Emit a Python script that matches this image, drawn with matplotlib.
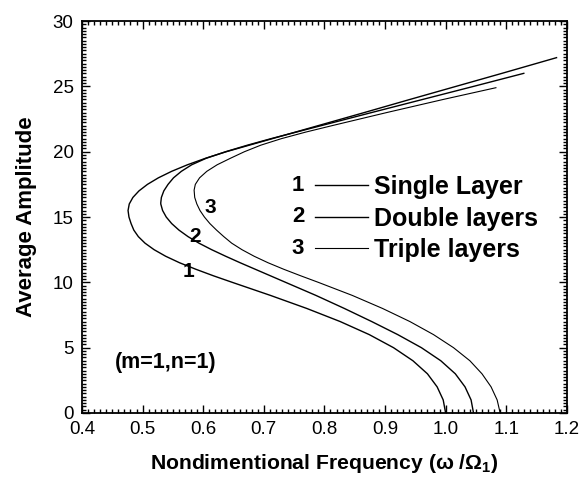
import matplotlib
matplotlib.use('Agg')
import matplotlib.pyplot as plt
from matplotlib.ticker import MultipleLocator

plt.rcParams['font.family'] = ['Liberation Sans', 'DejaVu Sans']
plt.rcParams['mathtext.fontset'] = 'custom'
plt.rcParams['mathtext.rm'] = 'Liberation Sans'
plt.rcParams['mathtext.bf'] = 'Liberation Sans:bold'

# backbone curves (frequency ratio vs amplitude)
amp1 = [0, 1, 2, 3, 4, 5, 6, 7, 8, 9, 10, 10.5, 11, 11.5, 12, 12.5, 13, 13.5,
        14, 14.5, 15, 15.5, 16, 16.5, 17, 17.5, 18, 18.5, 19, 19.5, 20, 20.5,
        21, 22, 23, 24, 25, 26, 27.2]
freq1 = [1.000, 0.996, 0.986, 0.970, 0.946, 0.914, 0.874, 0.826, 0.771, 0.711,
         0.648, 0.617, 0.588, 0.561, 0.538, 0.519, 0.504, 0.493,
         0.4855, 0.481, 0.4775, 0.476, 0.478, 0.484, 0.494, 0.508, 0.526, 0.548,
         0.574, 0.604, 0.638, 0.676, 0.714, 0.790, 0.866, 0.941, 1.017, 1.093, 1.183]

amp2 = [0, 1, 2, 3, 4, 5, 6, 7, 8, 9, 10, 11, 11.5, 12, 12.5, 13, 13.5, 14,
        14.5, 15, 15.5, 16, 16.1, 16.5, 17, 17.5, 18, 18.5, 19, 19.5, 20, 20.5,
        21, 22, 23, 24, 25, 26]
freq2 = [1.046, 1.042, 1.032, 1.016, 0.992, 0.960, 0.921, 0.878, 0.833, 0.786,
         0.736, 0.686, 0.661, 0.637, 0.614, 0.593, 0.575, 0.560,
         0.548, 0.539, 0.533, 0.530, 0.530, 0.531, 0.535, 0.542, 0.551, 0.564,
         0.581, 0.605, 0.637, 0.673, 0.712, 0.795, 0.878, 0.962, 1.046, 1.129]

amp3 = [0, 1, 2, 3, 4, 5, 6, 7, 8, 9, 10, 10.5, 11, 11.5, 12, 12.5, 13, 13.5,
        14, 14.5, 15, 15.5, 16, 16.5, 17.06, 17.5, 18, 18.5, 19, 19.5, 20, 20.5,
        21, 21.5, 22, 23, 24, 24.9]
freq3 = [1.090, 1.085, 1.075, 1.060, 1.040, 1.013, 0.980, 0.941, 0.896, 0.846,
         0.790, 0.761, 0.733, 0.707, 0.684, 0.664, 0.647, 0.634,
         0.622, 0.611, 0.602, 0.5947, 0.5895, 0.586, 0.585, 0.587, 0.594, 0.606,
         0.623, 0.645, 0.668, 0.695, 0.729, 0.769, 0.813, 0.903, 0.996, 1.083]

labels = ['Single Layer', 'Double layers', 'Triple layers']

fig = plt.figure(figsize=(5.79, 4.79), dpi=100)
ax = fig.add_axes([0.1416, 0.1378, 0.8374, 0.8182])

l1, = ax.plot(freq1, amp1, color='black', lw=1.0)
l2, = ax.plot(freq2, amp2, color='black', lw=1.0)
l3, = ax.plot(freq3, amp3, color='black', lw=0.8)

ax.set_xlim(0.4, 1.2)
ax.set_ylim(0, 30)
ax.xaxis.set_major_locator(MultipleLocator(0.1))
ax.xaxis.set_minor_locator(MultipleLocator(0.01))
ax.yaxis.set_major_locator(MultipleLocator(5))
ax.yaxis.set_minor_locator(MultipleLocator(0.25))
ax.tick_params(which='both', direction='in', top=True, right=True, width=1)
ax.tick_params(which='major', length=6, labelsize=13.5, pad=6)
ax.tick_params(which='minor', length=3)
ax.set_xticks(ax.get_xticks())
ax.set_xticklabels(['%.1f' % v for v in ax.get_xticks()])
ax.set_xlim(0.4, 1.2)
for s in ax.spines.values():
    s.set_linewidth(1.3)

ax.set_xlabel(r'Nondimentional Frequency (ω /Ω$_{\mathbf{1}}$)',
              fontsize=15.2, fontweight='bold', labelpad=10)
ax.set_ylabel('Average Amplitude', fontsize=16, fontweight='bold', labelpad=11)

# curve numbers
ax.text(0.575, 10.8, '1', fontsize=15, fontweight='bold', ha='center', va='center')
ax.text(0.586, 13.5, '2', fontsize=15, fontweight='bold', ha='center', va='center')
ax.text(0.612, 15.7, '3', fontsize=15, fontweight='bold', ha='center', va='center')
ax.text(0.538, 3.9, '(m=1,n=1)', fontsize=15.5, fontweight='bold', ha='center', va='center')

leg = ax.legend([l1, l2, l3], labels, loc='upper left', bbox_to_anchor=(0.455, 0.639),
                frameon=False, borderpad=0, handlelength=2.1, handletextpad=0.25,
                labelspacing=0.3, prop={'size': 18, 'weight': 'bold'})

# numbers in front of the legend lines
fig.canvas.draw()
inv = ax.transAxes.inverted()
for i, h in enumerate(leg.get_lines()):
    bb = h.get_window_extent()
    xa, ya = inv.transform((bb.x0 - 17, (bb.y0 + bb.y1) / 2))
    ax.text(xa, ya, str(i + 1), transform=ax.transAxes, fontsize=16,
            fontweight='bold', ha='center', va='center')

fig.savefig('out.png', dpi=100)
